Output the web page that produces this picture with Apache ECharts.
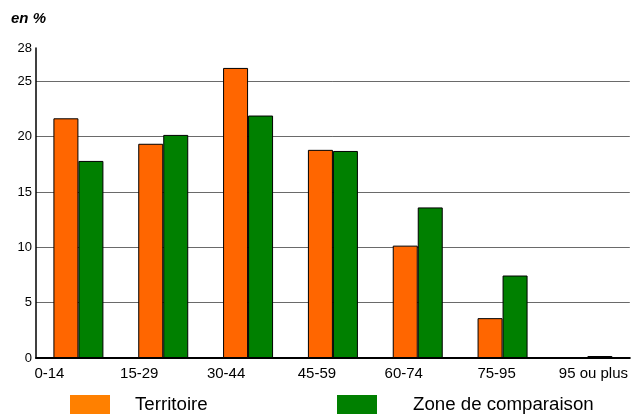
<!DOCTYPE html>
<html>
<head>
<meta charset="utf-8">
<script src="https://cdn.jsdelivr.net/npm/echarts@6/dist/echarts.min.js"></script>
<style>html,body{margin:0;padding:0;background:#fff;}#c{width:631px;height:414px;}</style>
</head>
<body>
<div id="c"></div>
<script>
const categories = ['0-14', '15-29', '30-44', '45-59', '60-74', '75-95', '95 ou plus'];
const territoire = [21.65, 19.35, 26.2, 18.8, 10.15, 3.6, 0.05];
const zoneComparaison = [17.8, 20.15, 21.9, 18.7, 13.6, 7.45, 0.18];
const yTickLabels = [0, 5, 10, 15, 20, 25, 28];
const seriesNames = ['Territoire', 'Zone de comparaison'];
const unitLabel = 'en %';

// per-label horizontal shifts (px) to mimic original label placement
const labelShift = [-29, -24, -22, -16, -14, -6, 6];
const rich = {};
labelShift.forEach((d, i) => {
  rich['l' + i] = {
    fontFamily: 'Liberation Sans, Arial, sans-serif',
    fontSize: 15,
    color: '#000',
    padding: d < 0 ? [0, -2 * d, 0, 0] : [0, 0, 0, 2 * d]
  };
});

const chart = echarts.init(document.getElementById('c'), null, {renderer: 'canvas'});
chart.setOption({
  animation: false,
  backgroundColor: '#fff',
  title: {
    text: unitLabel,
    left: 6, top: 6,
    textStyle: {fontFamily: 'Liberation Sans, Arial, sans-serif', fontSize: 15, fontWeight: 'bold', fontStyle: 'italic', color: '#000'}
  },
  legend: [
    {
      data: [{name: seriesNames[0], itemStyle: {color: '#FF8000', borderWidth: 0}}],
      left: 65, top: 390, itemWidth: 40, itemHeight: 19, icon: 'rect',
      textStyle: {fontFamily: 'Liberation Sans, Arial, sans-serif', fontSize: 18.7, lineHeight: 19, color: '#000', padding: [0, 0, 0, 20]}
    },
    {
      data: [{name: seriesNames[1], itemStyle: {color: '#008000', borderWidth: 0}}],
      left: 332, top: 390, itemWidth: 40, itemHeight: 19, icon: 'rect',
      textStyle: {fontFamily: 'Liberation Sans, Arial, sans-serif', fontSize: 18.7, lineHeight: 19, color: '#000', padding: [0, 0, 0, 31]}
    }
  ],
  grid: {left: 36, right: 1, top: 48, bottom: 56, containLabel: false},
  xAxis: {
    type: 'category',
    data: categories,
    axisLine: {show: true, lineStyle: {color: '#000', width: 2}},
    axisTick: {show: false},
    axisLabel: {
      interval: 0,
      margin: 8,
      formatter: (v, i) => '{l' + i + '|' + v + '}',
      rich: rich
    }
  },
  yAxis: {
    type: 'value',
    min: 0, max: 28, interval: 5,
    axisLine: {show: true, lineStyle: {color: '#000', width: 1.5}},
    axisTick: {show: false},
    axisLabel: {
      margin: 4,
      fontFamily: 'Liberation Sans, Arial, sans-serif', fontSize: 13, color: '#000',
      customValues: yTickLabels
    },
    splitLine: {show: true, showMinLine: false, showMaxLine: false, lineStyle: {color: '#6a6a6a', width: 1}}
  },
  series: [
    {
      name: seriesNames[0], type: 'bar', data: territoire,
      barWidth: 25, barGap: '0%',
      itemStyle: {color: '#FF6600', borderColor: '#000', borderWidth: 1}
    },
    {
      name: seriesNames[1], type: 'bar', data: zoneComparaison,
      barWidth: 25, barGap: '0%',
      itemStyle: {color: '#008000', borderColor: '#000', borderWidth: 1}
    }
  ]
});
</script>
</body>
</html>
